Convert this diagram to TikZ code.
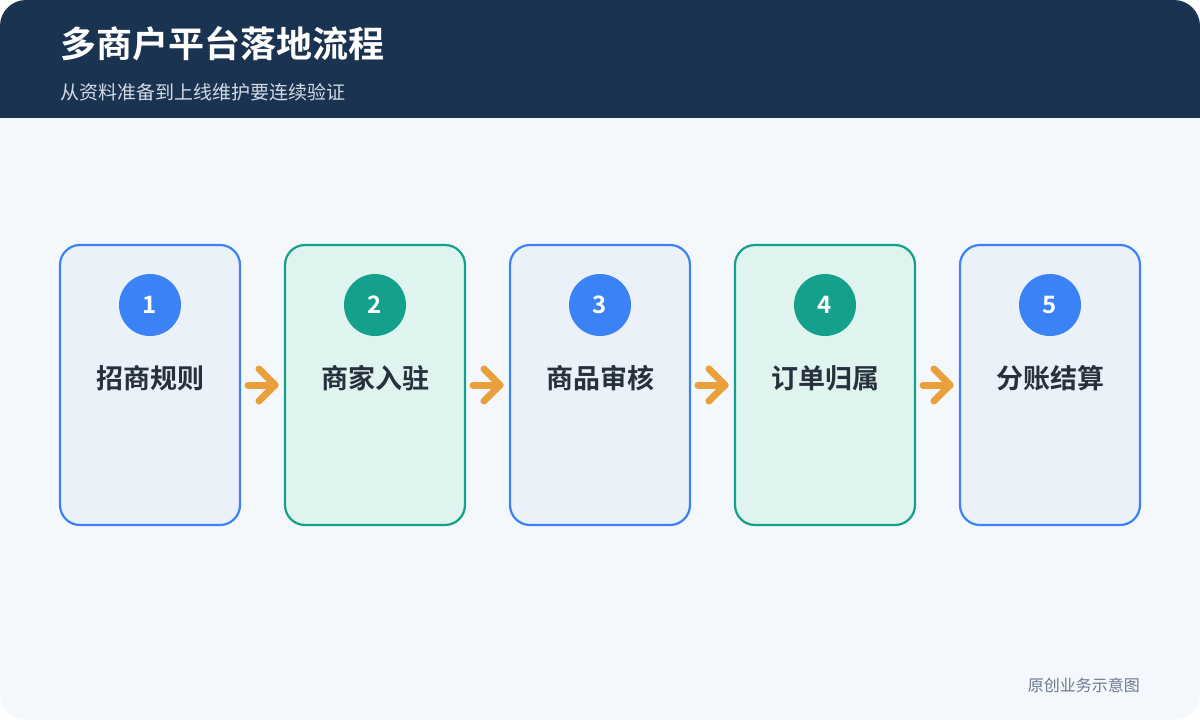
\documentclass[tikz,border=0pt]{standalone}
\usepackage{fontspec}
\usetikzlibrary{calc}
\setmainfont{Noto Sans CJK SC}
\newfontfamily\cjkbold{Noto Sans CJK SC Bold}
\definecolor{hdr}{HTML}{1A3350}
\definecolor{bgc}{HTML}{F4F7FC}
\definecolor{bluebd}{HTML}{3B82F6}
\definecolor{bluefl}{HTML}{EAF1F9}
\definecolor{greenbd}{HTML}{14A08A}
\definecolor{greenfl}{HTML}{DFF3EF}
\definecolor{txt}{HTML}{27303D}
\definecolor{subc}{HTML}{D3DBE5}
\definecolor{footc}{HTML}{6B7A8E}
\definecolor{arr}{HTML}{E9A03B}
\tikzset{
  stepcard/.style={draw=#1bd, fill=#1fl, line width=2.2pt, rounded corners=20pt, minimum width=180pt, minimum height=280pt, inner sep=0pt},
  numdot/.style={circle, fill=#1bd, minimum size=62pt, inner sep=0pt, text=white, font=\cjkbold\fontsize{24}{24}\selectfont},
  steplabel/.style={text=txt, font=\cjkbold\fontsize{27}{27}\selectfont, inner sep=0pt},
  flowarrow/.style={draw=arr, line width=7pt, line cap=round, line join=round}
}
\begin{document}
\begin{tikzpicture}[x=1pt,y=-1pt]
\useasboundingbox (0,0) rectangle (1200,720);
\begin{scope}
\clip[rounded corners=26pt] (0,0) rectangle (1200,720);
\fill[bgc] (0,0) rectangle (1200,720);
\fill[hdr] (0,0) rectangle (1200,118);
\end{scope}
\node[anchor=base west, text=white, font=\cjkbold\fontsize{36}{36}\selectfont, inner sep=0pt] (title) at (60,57) {多商户平台落地流程};
\node[anchor=base west, text=subc, font=\fontsize{19}{19}\selectfont, inner sep=0pt] (sub) at (60,99) {从资料准备到上线维护要连续验证};
\foreach \i/\c/\t in {1/blue/招商规则, 2/green/商家入驻, 3/blue/商品审核, 4/green/订单归属, 5/blue/分账结算}{
  \pgfmathsetmacro{\cx}{150+225*(\i-1)}
  \node[stepcard=\c] (card\i) at (\cx,385) {};
  \node[numdot=\c] (num\i) at (\cx,305) {\i};
  \node[steplabel] (lab\i) at (\cx,378) {\t};
}
\foreach \i in {1,...,4}{
  \pgfmathsetmacro{\ax}{240+225*(\i-1)}
  \coordinate (as\i) at (\ax+8,385);
  \coordinate (at\i) at (\ax+35,385);
  \draw[flowarrow] (as\i) -- (at\i);
  \draw[flowarrow] ($(at\i)+(-16,-16)$) -- (at\i) -- ($(at\i)+(-16,16)$);
}
\node[anchor=base east, text=footc, font=\fontsize{16}{16}\selectfont, inner sep=0pt] (foot) at (1140,691) {原创业务示意图};
\end{tikzpicture}
\end{document}
